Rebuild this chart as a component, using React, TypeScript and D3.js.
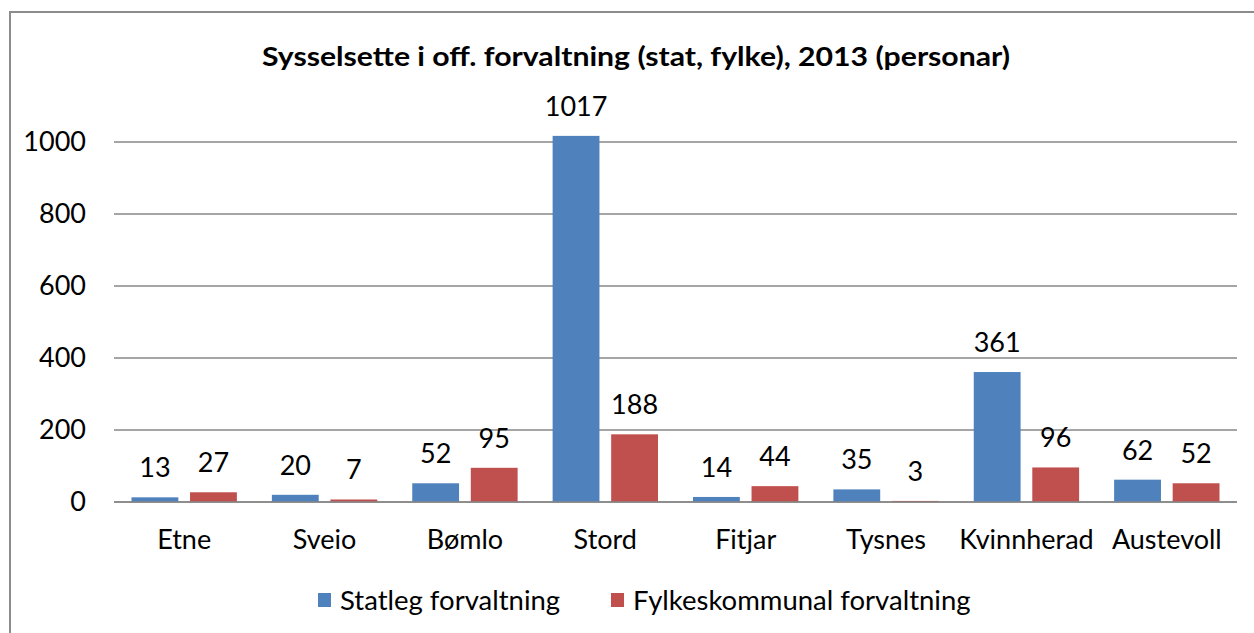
import React from "react";
import * as d3 from "d3";

const kommunar = ["Etne", "Sveio", "Bømlo", "Stord", "Fitjar", "Tysnes", "Kvinnherad", "Austevoll"];
const statleg = [13, 20, 52, 1017, 14, 35, 361, 62];
const fylke = [27, 7, 95, 188, 44, 3, 96, 52];
const seriesNames = ["Statleg forvaltning", "Fylkeskommunal forvaltning"];
const yTicks = [0, 200, 400, 600, 800, 1000];

const colors = ["#4F81BD", "#C0504D"];
const FONT = "Lato, 'Open Sans', sans-serif";

const App = () => {
  const width = 1254;
  const height = 633;

  const x = d3.scaleBand().domain(kommunar).range([114, 1237]);
  const xInner = d3.scaleBand<number>()
    .domain([0, 1])
    .range([17.5, x.bandwidth() - 17.5])
    .paddingInner(0.2);
  const y = d3.scaleLinear().domain([0, 1000]).range([502, 142]);

  const series = [statleg, fylke];

  return (
    <svg width={width} height={height} style={{ display: "block" }}>
      <style>{`body { margin: 0; }`}</style>
      <rect x={0} y={0} width={width} height={height} fill="#fff" />
      {/* chart frame */}
      <path d={`M10,${height + 2} V12 H${width + 2}`} fill="none" stroke="#8c8c8c" strokeWidth={2} />

      <text
        x={636}
        y={66}
        textAnchor="middle"
        fontFamily={FONT}
        fontWeight="bold"
        fontSize={26}
        textLength={748}
        lengthAdjust="spacingAndGlyphs"
        fill="#000"
      >
        Sysselsette i off. forvaltning (stat, fylke), 2013 (personar)
      </text>

      {/* gridlines + y labels */}
      {yTicks.map(t => (
        <g key={t}>
          <line x1={114} x2={1237} y1={y(t)} y2={y(t)} stroke="#878787" strokeWidth={1.5} />
          <text
            x={86}
            y={y(t)}
            dy="0.35em"
            textAnchor="end"
            fontFamily={FONT}
            fontSize={27}
            fill="#000"
          >
            {t}
          </text>
        </g>
      ))}

      {/* bars */}
      {kommunar.map((k, i) => (
        <g key={k} transform={`translate(${x(k)},0)`}>
          {series.map((s, j) => (
            <g key={j}>
              <rect
                x={xInner(j)}
                y={y(s[i])}
                width={xInner.bandwidth()}
                height={y(0) - y(s[i])}
                fill={colors[j]}
              />
              <text
                x={(xInner(j) || 0) + xInner.bandwidth() / 2}
                y={y(s[i]) - 20}
                textAnchor="middle"
                fontFamily={FONT}
                fontSize={27}
                fill="#000"
              >
                {s[i]}
              </text>
            </g>
          ))}
          <text
            x={x.bandwidth() / 2}
            y={549}
            textAnchor="middle"
            fontFamily={FONT}
            fontSize={27}
            fill="#000"
          >
            {k}
          </text>
        </g>
      ))}

      {/* zero axis */}
      <line x1={114} x2={1237} y1={y(0)} y2={y(0)} stroke="#878787" strokeWidth={1.5} />

      {/* legend */}
      {seriesNames.map((name, j) => {
        const lx = j === 0 ? 318 : 611;
        return (
          <g key={name}>
            <rect x={lx} y={593} width={13} height={14} fill={colors[j]} />
            <text x={lx + 22} y={610} fontFamily={FONT} fontSize={27.5} fill="#000">
              {name}
            </text>
          </g>
        );
      })}
    </svg>
  );
};

export default App;
